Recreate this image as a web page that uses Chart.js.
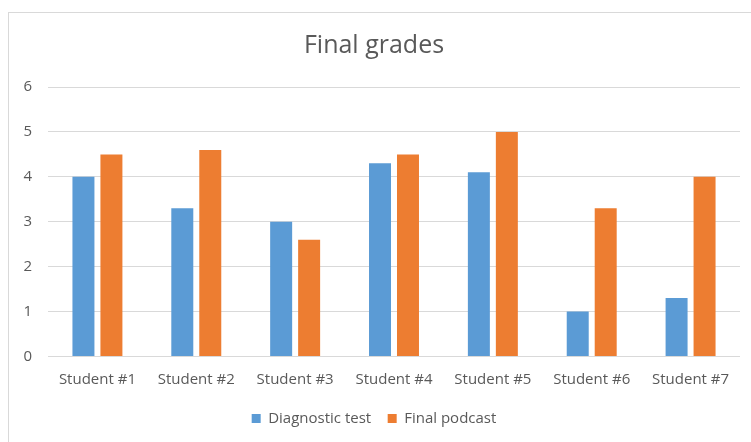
<!DOCTYPE html>
<html>
<head>
<meta charset="utf-8">
<script src="https://cdn.jsdelivr.net/npm/chart.js@4"></script>
<style>
html,body{margin:0;padding:0;background:#fff;}
#wrap{width:751px;height:442px;position:relative;}
</style>
</head>
<body>
<div id="wrap"><canvas id="c" width="751" height="442"></canvas></div>
<script>
const categories = ["Student #1","Student #2","Student #3","Student #4","Student #5","Student #6","Student #7"];
const diagnosticTest = [4.0, 3.3, 3.0, 4.3, 4.1, 1.0, 1.3];
const finalPodcast = [4.5, 4.6, 2.6, 4.5, 5.0, 3.3, 4.0];
const seriesNames = ["Diagnostic test", "Final podcast"];
const yTicks = [0,1,2,3,4,5,6];

const frame = {
  id: 'frame',
  beforeDraw(chart){
    const ctx = chart.ctx;
    ctx.save();
    ctx.fillStyle = '#fff';
    ctx.fillRect(0,0,chart.width,chart.height);
    ctx.strokeStyle = '#d9d9d9';
    ctx.lineWidth = 1;
    ctx.strokeRect(8.5, 12.5, chart.width + 20, chart.height + 20);
    ctx.restore();
  }
};

const FONT = "'Open Sans', 'Noto Sans', sans-serif";
new Chart(document.getElementById('c'), {
  type: 'bar',
  data: {
    labels: categories,
    datasets: [
      {label: seriesNames[0], data: diagnosticTest, backgroundColor: '#5b9bd5', categoryPercentage: 0.566, barPercentage: 0.786},
      {label: seriesNames[1], data: finalPodcast, backgroundColor: '#ed7d31', categoryPercentage: 0.566, barPercentage: 0.786}
    ]
  },
  options: {
    responsive: false,
    animation: false,
    layout: {padding: {left: 8, right: 11, top: 12, bottom: 6}},
    plugins: {
      title: {display: true, text: 'Final grades', color: '#595959', font: {family: FONT, size: 25, weight: 'normal'}, padding: {top: 19, bottom: 26}},
      legend: {position: 'bottom', labels: {color: '#595959', font: {family: FONT, size: 15}, boxWidth: 9, boxHeight: 9, padding: 16.5, usePointStyle: true, pointStyle: 'rect'}},
      tooltip: {enabled: false}
    },
    scales: {
      x: {
        grid: {display: false},
        border: {display: false},
        ticks: {color: '#595959', font: {family: FONT, size: 15}, padding: 6, maxRotation: 0}
      },
      y: {
        min: 0, max: 6,
        afterBuildTicks(s){ s.ticks = yTicks.map(v => ({value: v})); },
        afterFit(s){ s.width = 40; },
        grid: {color: '#d9d9d9', drawTicks: false},
        border: {display: false},
        ticks: {color: '#595959', font: {family: FONT, size: 15}, padding: 16, align: 'center'}
      }
    }
  },
  plugins: [frame]
});
</script>
</body>
</html>
